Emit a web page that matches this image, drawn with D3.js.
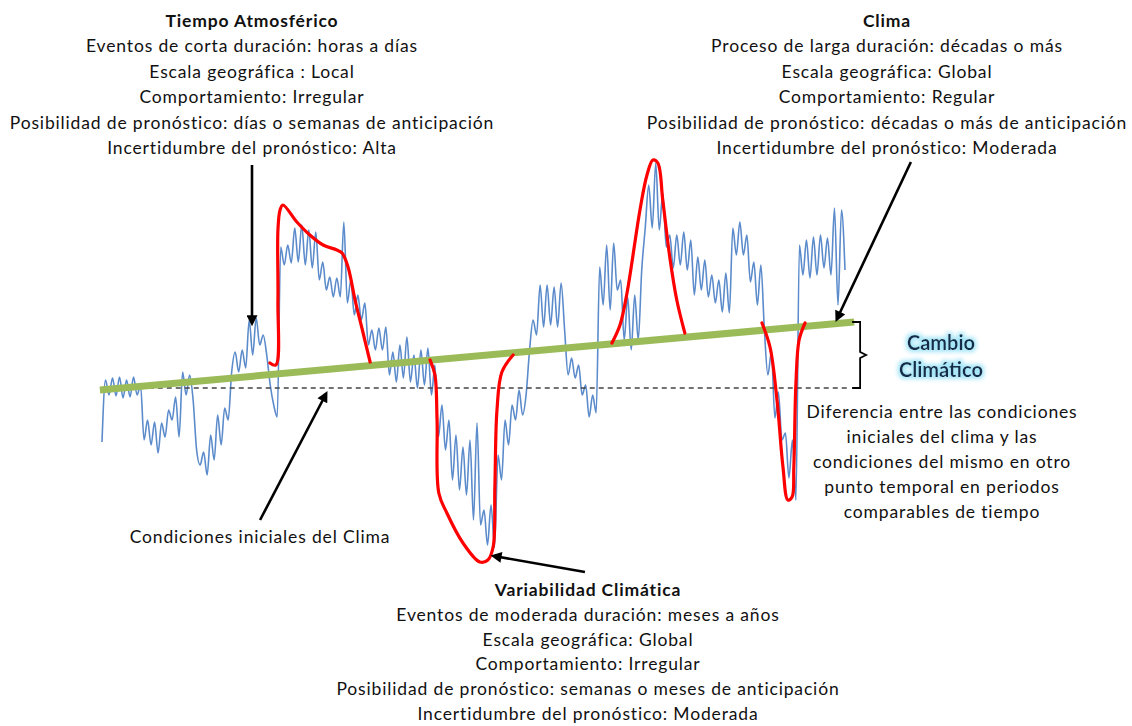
<!DOCTYPE html>
<html>
<head>
<meta charset="utf-8">
<script src="https://cdn.jsdelivr.net/npm/d3@7"></script>
<style>
  body { margin: 0; background: #fff; }
  svg { display: block; }
  text { font-family: Lato, "Open Sans", sans-serif; fill: #111; }
</style>
</head>
<body>
<div id="chart"></div>
<script>
// anomalia de temperatura, un valor por paso de tiempo (0..212)
const serie = [
  -5.4, 0.8, -0.7, 1.0, -0.8, 1.1, -1.0, 0.8, -0.9, 1.1, -0.7, 0.3,
  -5.2, -3.2, -5.7, -3.4, -6.5, -3.5, -4.9, -2.2, -3.2, -0.9, -4.9, 1.6,
  -0.7, 1.3, -1.2, -6.2, -7.7, -6.4, -8.7, -4.7, -7.2, -2.7, -5.7, -2.0,
  -3.2, 1.6, 3.6, 1.6, 3.8, 2.0, 6.8, 3.3, 7.0, 4.3, 5.3, 3.3,
  0.3, -1.7, -2.9, 14.1, 12.3, 14.3, 12.5, 16.0, 12.6, 16.3, 12.3, 15.8,
  12.0, 15.6, 10.8, 12.6, 9.8, 11.1, 9.1, 11.0, 9.1, 16.6, 8.5, 10.8,
  7.3, 9.3, 6.8, 8.5, 4.3, 5.8, 3.8, 6.0, 3.8, 6.1, 1.3, 3.6,
  0.6, 4.3, 1.0, 5.1, 0.6, 3.3, 0.0, 3.8, 0.3, 4.0, -0.7, 2.3,
  -4.9, -1.7, -6.2, -3.2, -9.2, -4.7, -10.2, -5.9, -10.7, -5.2, -13.2, -3.5,
  -13.7, -12.2, -15.7, -11.7, -15.9, -6.7, -9.2, -3.2, -5.7, -1.7, -3.2, -0.2,
  -2.7, -0.7, 3.8, 6.8, 5.3, 10.3, 6.1, 10.3, 6.3, 10.1, 6.1, 10.5,
  5.8, 1.3, 3.0, 1.0, 2.3, -0.7, 0.3, -2.9, -0.7, -2.5, 12.1, 8.3,
  14.3, 7.8, 14.5, 9.8, 10.8, 4.8, 9.1, 3.8, 9.3, 4.8, 11.8, 16.0,
  20.3, 16.0, 22.5, 15.8, 19.5, 14.1, 15.3, 12.0, 15.3, 12.3, 15.6, 11.8,
  14.8, 9.3, 13.1, 9.8, 12.8, 9.1, 11.3, 8.5, 10.8, 7.6, 11.5, 7.5,
  16.0, 13.3, 16.6, 13.3, 15.3, 10.6, 12.6, 8.3, 12.3, 5.8, 1.3, 3.6,
  -3.0, -0.4, -5.2, -4.5, -9.0, -5.2, -11.2, 14.3, 11.3, 14.8, 11.0, 15.1,
  11.3, 15.3, 12.0, 15.0, 11.3, 18.0, 8.3, 17.8, 11.8
];

// envolventes rojas [paso, anomalia]
const rojoCalido = [[47.9, 2.5], [49.6, 2.3], [50.2, 8.8], [50.2, 15.8], [50.8, 17.8], [51.6, 18.3],
  [55.6, 16.6], [59.3, 15.3], [63.1, 14.3], [67.0, 13.8], [68.5, 13.5], [70.2, 12.1],
  [72.2, 8.8], [74.5, 5.5], [76.5, 2.6]];
const rojoFrio = [[93.6, 2.8], [95.0, 1.3], [95.6, -3.2], [96.1, -10.5], [98.4, -12.5], [103.0, -15.5],
  [107.8, -17.4], [110.1, -17.2], [111.6, -15.9], [112.1, -9.9], [112.7, -2.2], [114.1, 1.6], [117.3, 3.3]];
const rojoPico = [[145.5, 4.5], [147.8, 6.3], [149.8, 9.5], [153.5, 17.8], [155.5, 21.3], [157.2, 22.8],
  [158.6, 22.5], [160.0, 18.8], [162.0, 13.1], [164.0, 8.8], [166.3, 5.5]];
const rojoCaida = [[188.3, 6.5], [190.6, 4.1], [192.6, -1.2], [194.3, -7.9], [195.7, -11.2], [196.9, -10.9],
  [197.4, -7.9], [198.0, 0.5], [198.9, 4.8], [200.6, 6.5]];

const lineaBase = [[0.5, 0], [212.5, 0]];
const tendencia = [[-0.6, -0.2], [214.6, 6.6]];

// flechas [origen, punta] en coordenadas del grafico
const flechas = [
  [[42.8, 22.3], [42.8, 6.5]],
  [[230.8, 22.6], [209.7, 6.9]],
  [[45.1, -13.2], [63.9, -0.6]],
  [[137.8, -18.4], [111.8, -16.8]]
];

const tituloTiempo = "Tiempo Atmosférico";
const textoTiempo = ["Eventos de corta duración: horas a días", "Escala geográfica : Local",
  "Comportamiento: Irregular", "Posibilidad de pronóstico: días o semanas de anticipación",
  "Incertidumbre del pronóstico: Alta"];
const tituloClima = "Clima";
const textoClima = ["Proceso de larga duración: décadas o más", "Escala geográfica: Global",
  "Comportamiento: Regular", "Posibilidad de pronóstico: décadas o más de anticipación",
  "Incertidumbre del pronóstico: Moderada"];
const tituloVariab = "Variabilidad Climática";
const textoVariab = ["Eventos de moderada duración: meses a años", "Escala geográfica: Global",
  "Comportamiento: Irregular", "Posibilidad de pronóstico: semanas o meses de anticipación",
  "Incertidumbre del pronóstico: Moderada"];
const textoDiferencia = ["Diferencia entre las condiciones", "iniciales del clima y las",
  "condiciones del mismo en otro", "punto temporal en periodos", "comparables de tiempo"];
const textoCambio = ["Cambio", "Climático"];
const textoInicial = "Condiciones iniciales del Clima";

const width = 1132, height = 726;
let svg = d3.select("#chart").append("svg")
  .attr("width", width)
  .attr("height", height);

let x = d3.scaleLinear().domain([0, 212]).range([102, 845]);
let y = d3.scaleLinear().domain([-17, 23]).range([558, 158]);

let defs = svg.append("defs");
defs.append("marker")
  .attr("id", "punta")
  .attr("markerUnits", "userSpaceOnUse")
  .attr("viewBox", "0 0 10 10")
  .attr("refX", 7).attr("refY", 5)
  .attr("markerWidth", 12).attr("markerHeight", 11)
  .attr("orient", "auto")
  .append("path").attr("d", "M0,0 L10,5 L0,10 z").attr("fill", "#000");

let glow = defs.append("filter").attr("id", "glow")
  .attr("x", "-20%").attr("y", "-40%").attr("width", "140%").attr("height", "180%");
glow.append("feMorphology").attr("in", "SourceAlpha").attr("operator", "dilate").attr("radius", 1.5).attr("result", "d");
glow.append("feGaussianBlur").attr("in", "d").attr("stdDeviation", 2).attr("result", "b");
glow.append("feFlood").attr("flood-color", "#a6e6f7");
glow.append("feComposite").attr("in2", "b").attr("operator", "in").attr("result", "g");
let mg = glow.append("feMerge");
mg.append("feMergeNode").attr("in", "g");
mg.append("feMergeNode").attr("in", "SourceGraphic");

let linea = d3.line().x(d => x(d[0])).y(d => y(d[1]));

// serie azul
svg.append("path")
  .datum(serie)
  .attr("d", d3.line().x((d, i) => x(i)).y(d => y(d)).curve(d3.curveMonotoneX))
  .attr("fill", "none")
  .attr("stroke", "#5b8bcb")
  .attr("stroke-width", 1.6);

// condiciones iniciales
svg.append("path")
  .datum(lineaBase)
  .attr("d", linea)
  .attr("stroke", "#444")
  .attr("stroke-width", 1.3)
  .attr("stroke-dasharray", "5,4");

// tendencia (cambio climatico)
svg.append("path")
  .datum(tendencia)
  .attr("d", linea)
  .attr("stroke", "#9bbb59")
  .attr("stroke-width", 7);

// envolventes rojas
svg.selectAll(".rojo")
  .data([rojoCalido, rojoFrio, rojoPico, rojoCaida]).enter()
  .append("path")
  .attr("class", "rojo")
  .attr("d", d3.line().x(d => x(d[0])).y(d => y(d[1])).curve(d3.curveCatmullRom.alpha(0.5)))
  .attr("fill", "none")
  .attr("stroke", "#ff0000")
  .attr("stroke-width", 3.2)
  .attr("stroke-linecap", "round");

// flechas
svg.selectAll(".flecha")
  .data(flechas).enter()
  .append("line")
  .attr("x1", d => x(d[0][0])).attr("y1", d => y(d[0][1]))
  .attr("x2", d => x(d[1][0])).attr("y2", d => y(d[1][1]))
  .attr("stroke", "#000")
  .attr("stroke-width", 2.6)
  .attr("marker-end", "url(#punta)");

// llave del cambio climatico
let t0 = tendencia[1][1], bx = x(tendencia[1][0]) + 6;
let ym = (y(t0) + y(0)) / 2;
svg.append("path")
  .attr("d", `M${bx - 8},${y(t0)} H${bx} V${ym - 3} L${bx + 6},${ym} L${bx},${ym + 3} V${y(0)} H${bx - 8}`)
  .attr("fill", "none")
  .attr("stroke", "#000")
  .attr("stroke-width", 1.8);

function bloque(cx, y0, titulo, lineas, paso) {
  let g = svg.append("text").attr("text-anchor", "middle")
    .style("font-size", "17.5px")
    .style("letter-spacing", "0.85px");
  if (titulo) {
    g.append("tspan").attr("x", cx).attr("y", y0).style("font-weight", "bold").text(titulo);
  }
  lineas.forEach((l, i) => {
    g.append("tspan").attr("x", cx).attr("y", y0 + (i + (titulo ? 1 : 0)) * paso).text(l);
  });
}
bloque(252, 27, tituloTiempo, textoTiempo, 25.4);
bloque(887, 27, tituloClima, textoClima, 25.4);
bloque(588, 596, tituloVariab, textoVariab, 24.8);
bloque(942, 418, null, textoDiferencia, 25);
bloque(260, 543, null, [textoInicial], 25);

svg.append("text")
  .attr("text-anchor", "middle")
  .attr("filter", "url(#glow)")
  .style("font-size", "20px")
  .style("font-weight", "bold")
  .selectAll("tspan").data(textoCambio).enter()
  .append("tspan")
  .attr("x", 941)
  .attr("y", (d, i) => 350 + i * 27)
  .style("fill", "#152a4a")
  .text(d => d);
</script>
</body>
</html>
